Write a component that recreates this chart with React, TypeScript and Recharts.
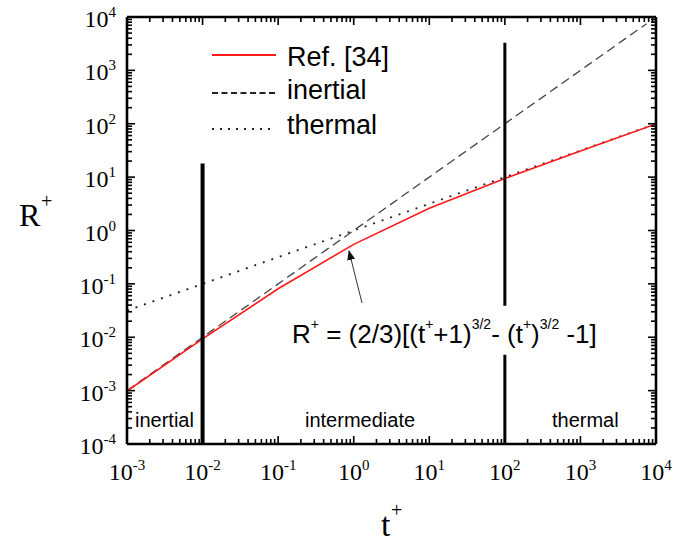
import React from 'react';
import { ComposedChart, Line, XAxis, YAxis, ReferenceLine, Legend } from 'recharts';

// ---- data ----
const refT = [1e-3, 1e-2, 1e-1, 1, 10, 100, 1000, 1e4];
const refR = [0.00098, 0.0093, 0.081, 0.55, 2.6, 9.4, 31, 99];
const inertialT = [1e-3, 7500];
const inertialR = [1e-3, 7500];
const thermalT = [1e-3, 1e4];
const thermalR = [0.0316, 100];
const xDecades = [-3, -2, -1, 0, 1, 2, 3, 4];
const yDecades = [-4, -3, -2, -1, 0, 1, 2, 3, 4];
const legendNames = ['Ref. [34]', 'inertial', 'thermal'];
const regionNames = ['inertial', 'intermediate', 'thermal'];
const formulaText = 'R+ = (2/3)[(t+ +1)3/2- (t+)3/2 -1]';

const refData = refT.map((t, i) => ({ t, R: refR[i] }));
const inertialData = inertialT.map((t, i) => ({ t, R: inertialR[i] }));
const thermalData = thermalT.map((t, i) => ({ t, R: thermalR[i] }));

function buildTicks(decades: number[]) {
  const out: number[] = [];
  for (let k = 0; k < decades.length; k++) {
    const d = decades[k];
    if (k === decades.length - 1) {
      out.push(Math.pow(10, d));
    } else {
      for (let m = 1; m <= 9; m++) out.push(m * Math.pow(10, d));
    }
  }
  return out;
}
const xTicks = buildTicks(xDecades);
const yTicks = buildTicks(yDecades);

const isMajor = (v: number) => {
  const l = Math.log10(v);
  return Math.abs(l - Math.round(l)) < 1e-6;
};
const expOf = (v: number) => String(Math.round(Math.log10(v)));

const SERIF = '"Liberation Serif", "Times New Roman", serif';
const SANS = '"Liberation Sans", Arial, sans-serif';
const MAJ = 8;
const MIN = 5;

const BottomTick = (p: any) => {
  const { x, y, payload } = p;
  const v = payload.value;
  const maj = isMajor(v);
  return (
    <g>
      <line x1={x} y1={y} x2={x} y2={y - (maj ? MAJ : MIN)} stroke="#000" strokeWidth={1.6} />
      {maj && (
        <text x={x} y={y + 36} textAnchor="middle" fontFamily={SERIF} fontSize={24} fill="#000">
          10<tspan dy={-10} fontSize={15}>{expOf(v)}</tspan>
        </text>
      )}
    </g>
  );
};
const TopTick = (p: any) => {
  const { x, y, payload } = p;
  const maj = isMajor(payload.value);
  return <line x1={x} y1={y} x2={x} y2={y + (maj ? MAJ : MIN)} stroke="#000" strokeWidth={1.6} />;
};
const LeftTick = (p: any) => {
  const { x, y, payload } = p;
  const v = payload.value;
  const maj = isMajor(v);
  return (
    <g>
      <line x1={x} y1={y} x2={x + (maj ? MAJ : MIN)} y2={y} stroke="#000" strokeWidth={1.6} />
      {maj && (
        <text x={x - 11} y={y + 10} textAnchor="end" fontFamily={SERIF} fontSize={24} fill="#000">
          10<tspan dy={-10} fontSize={15}>{expOf(v)}</tspan>
        </text>
      )}
    </g>
  );
};
const RightTick = (p: any) => {
  const { x, y, payload } = p;
  const maj = isMajor(payload.value);
  return <line x1={x} y1={y} x2={x - (maj ? MAJ : MIN)} y2={y} stroke="#000" strokeWidth={1.6} />;
};

const legendStyles = [
  { stroke: '#ff1a1a', dash: undefined as string | undefined, width: 2 },
  { stroke: '#222', dash: '6 3.5', width: 2 },
  { stroke: '#222', dash: '2 6', width: 2 },
];
const legendLineY = [17, 55, 91];
const legendTextY = [28, 61, 96];

const LegendContent = () => (
  <svg width={220} height={110} style={{ display: 'block' }}>
    {legendNames.map((n, i) => (
      <g key={n}>
        <line x1={7} x2={71} y1={legendLineY[i]} y2={legendLineY[i]} stroke={legendStyles[i].stroke}
          strokeWidth={legendStyles[i].width} strokeDasharray={legendStyles[i].dash} />
        <text x={82} y={legendTextY[i]} fontFamily={SANS} fontSize={27} fill="#000">{n}</text>
      </g>
    ))}
  </svg>
);

export default function App() {
  const W = 697;
  const H = 542;
  return (
    <div style={{ position: 'absolute', left: 0, top: 0, width: W, height: H, background: '#fff' }}>
      <ComposedChart width={W} height={H} margin={{ top: 16, right: 40, bottom: 97, left: 126 }}>
        <XAxis xAxisId="b" dataKey="t" type="number" scale="log" domain={[1e-3, 1e4]} allowDataOverflow
          ticks={xTicks} interval={0} height={1} tickSize={0} tickMargin={0} tickLine={false}
          axisLine={{ stroke: '#000', strokeWidth: 2.6 }} tick={<BottomTick />} orientation="bottom" />
        <XAxis xAxisId="t" dataKey="t" type="number" scale="log" domain={[1e-3, 1e4]} allowDataOverflow
          ticks={xTicks} interval={0} height={1} tickSize={0} tickMargin={0} tickLine={false}
          axisLine={{ stroke: '#000', strokeWidth: 2.6 }} tick={<TopTick />} orientation="top" />
        <YAxis yAxisId="l" dataKey="R" type="number" scale="log" domain={[1e-4, 1e4]} allowDataOverflow
          ticks={yTicks} interval={0} width={1} tickSize={0} tickMargin={0} tickLine={false}
          axisLine={{ stroke: '#000', strokeWidth: 2.6 }} tick={<LeftTick />} orientation="left" />
        <YAxis yAxisId="r" dataKey="R" type="number" scale="log" domain={[1e-4, 1e4]} allowDataOverflow
          ticks={yTicks} interval={0} width={1} tickSize={0} tickMargin={0} tickLine={false}
          axisLine={{ stroke: '#000', strokeWidth: 2.6 }} tick={<RightTick />} orientation="right" />

        <Line xAxisId="b" yAxisId="l" data={thermalData} dataKey="R" name="thermal" stroke="#222"
          strokeWidth={1.8} strokeDasharray="2 7" dot={false} isAnimationActive={false} type="linear" />
        <Line xAxisId="b" yAxisId="l" data={inertialData} dataKey="R" name="inertial" stroke="#444"
          strokeWidth={1.3} strokeDasharray="9 5" dot={false} isAnimationActive={false} type="linear" />
        <Line xAxisId="b" yAxisId="l" data={refData} dataKey="R" name="Ref. [34]" stroke="#ff1a1a"
          strokeWidth={1.6} dot={false} isAnimationActive={false} type="linear" />

        <ReferenceLine xAxisId="b" yAxisId="l" segment={[{ x: 0.01, y: 1e-4 }, { x: 0.01, y: 18 }]}
          stroke="#000" strokeWidth={4} ifOverflow="visible" />
        <ReferenceLine xAxisId="b" yAxisId="l" segment={[{ x: 100, y: 1e-4 }, { x: 100, y: 0.0047 }]}
          stroke="#000" strokeWidth={3} ifOverflow="visible" />
        <ReferenceLine xAxisId="b" yAxisId="l" segment={[{ x: 100, y: 0.039 }, { x: 100, y: 3300 }]}
          stroke="#000" strokeWidth={3} ifOverflow="visible" />

        <Legend content={<LegendContent />} layout="horizontal" verticalAlign="middle" align="center"
          wrapperStyle={{ position: 'absolute', left: 205, top: 38, width: 220, height: 110 }} />
      </ComposedChart>
      <svg width={W} height={H} style={{ position: 'absolute', left: 0, top: 0, pointerEvents: 'none' }}>
        <defs>
          <marker id="ah" markerWidth="10" markerHeight="8" refX="9" refY="4" orient="auto" markerUnits="userSpaceOnUse">
            <path d="M0,0 L10,4 L0,8 Z" fill="#111" />
          </marker>
        </defs>
        {/* axis titles */}
        <text x={19} y={226} fontFamily={SERIF} fontSize={32} fill="#000">R</text>
        <text x={41} y={208} fontFamily={SERIF} fontSize={20} fill="#000">+</text>
        <text x={381} y={536} fontFamily={SERIF} fontSize={34} fill="#000">t</text>
        <text x={391} y={517} fontFamily={SERIF} fontSize={20} fill="#000">+</text>
        {/* region labels */}
        <text x={135} y={427} fontFamily={SANS} fontSize={20} fill="#000">{regionNames[0]}</text>
        <text x={305} y={427} fontFamily={SANS} fontSize={20} fill="#000">{regionNames[1]}</text>
        <text x={552} y={427} fontFamily={SANS} fontSize={20} fill="#000">{regionNames[2]}</text>
        {/* annotation */}
        <line x1={362} y1={303} x2={349} y2={251} stroke="#333" strokeWidth={1} markerEnd="url(#ah)" />
        <text x={292} y={343} fontFamily={SANS} fontSize={26} fill="#000" aria-label={formulaText}>
          R<tspan dy={-14} fontSize={14}>+</tspan>
          <tspan dy={14}>{' = (2/3)[(t'}</tspan>
          <tspan dy={-14} fontSize={14}>+</tspan>
          <tspan dy={14}>+1)</tspan>
          <tspan dy={-14} fontSize={14}>3/2</tspan>
          <tspan dy={14}>- (t</tspan>
          <tspan dy={-14} fontSize={14}>+</tspan>
          <tspan dy={14}>)</tspan>
          <tspan dy={-14} fontSize={14}>3/2</tspan>
          <tspan dy={14}>{' -1]'}</tspan>
        </text>
      </svg>
    </div>
  );
}
